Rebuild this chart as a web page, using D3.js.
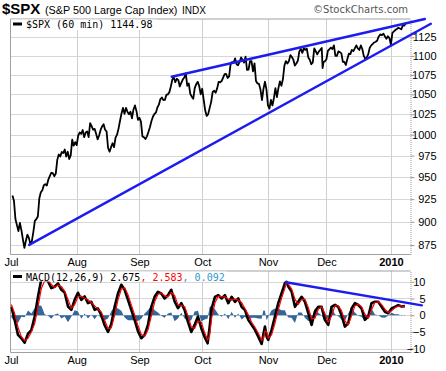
<!DOCTYPE html>
<html>
<head>
<meta charset="utf-8">
<script src="https://cdn.jsdelivr.net/npm/d3@7"></script>
<style>
  body { margin: 0; background: #fff; }
  svg { display: block; font-family: "Liberation Sans", Arial, sans-serif; }
</style>
</head>
<body>
<svg width="446" height="371"></svg>
<script>
// Month labels and the trading session where each month starts (Jul 1 2009 = 0)
const monthLabels = ["Jul", "Aug", "Sep", "Oct", "Nov", "Dec", "2010"];
const monthFirstSession = [0, 22, 43, 64, 86, 106, 128];
// shortened sessions (Nov 27, Dec 24) only have 4 of 7 hourly bars
const halfDays = [104, 123];

const priceTicks = [875, 900, 925, 950, 975, 1000, 1025, 1050, 1075, 1100, 1125];
const macdTicks = [-10, -5, 0, 5, 10];

// $SPX per session: a midday reading and the close
const middayPrice = [
  929, 903, 890, 891, 872, 886, 876, 889, 903, 926, 935, 942, 947, 955, 951, 970, 974, 978, 974, 971, 994, 991,
  999, 1001, 997, 1004, 1014, 1006, 1001, 999, 1010, 1006, 984, 985, 985, 1000, 1017, 1033, 1033, 1025, 1020, 1036, 1018,
  1016, 997, 998, 1009, 1022, 1027, 1037, 1046, 1043, 1050, 1060, 1072, 1070, 1060, 1069, 1077, 1064, 1047, 1058, 1066, 1050,
  1043, 1023, 1033, 1053, 1052, 1066, 1067, 1076, 1071, 1089, 1091, 1089, 1092, 1095, 1099, 1082, 1093, 1090, 1064, 1056, 1057, 1056,
  1032, 1036, 1058, 1058, 1061, 1087, 1090, 1101, 1095, 1090, 1106, 1104, 1108, 1098, 1089, 1110, 1102, 1108, 1084, 1093,
  1107, 1111, 1114, 1100, 1105, 1092, 1088, 1103, 1108, 1110, 1110, 1114, 1100, 1098, 1111, 1116, 1119, 1124, 1129, 1130, 1123, 1124,
  1131, 1135, 1138, 1136, 1141
];
const closePrice = [
  923.3, 896.4, 898.7, 881.0, 879.6, 882.7, 879.1, 901.1, 905.8, 932.7, 940.7, 940.4, 951.1, 954.6, 954.1, 976.3, 979.3, 982.2, 979.6, 975.2, 986.8, 987.5,
  1002.6, 1005.7, 1002.7, 997.1, 1010.5, 1007.1, 994.4, 1005.8, 1012.7, 1004.1, 979.7, 989.7, 996.5, 1007.4, 1026.1, 1025.6, 1028.0, 1028.1, 1031.0, 1028.9, 1020.6,
  998.0, 994.8, 1003.2, 1016.4, 1025.4, 1033.4, 1044.1, 1042.7, 1049.3, 1052.6, 1068.8, 1065.5, 1068.3, 1064.7, 1071.7, 1060.9, 1050.8, 1044.4, 1063.0, 1060.6, 1057.1,
  1029.9, 1025.2, 1040.5, 1054.7, 1057.6, 1065.5, 1071.5, 1076.2, 1073.2, 1092.0, 1096.6, 1087.7, 1097.9, 1091.1, 1081.4, 1092.9, 1079.6, 1067.0, 1063.4, 1042.6, 1066.1, 1036.2,
  1042.9, 1045.4, 1046.5, 1066.6, 1069.3, 1093.1, 1093.0, 1098.5, 1087.2, 1093.5, 1109.3, 1110.3, 1109.8, 1094.9, 1091.4, 1106.2, 1105.7, 1110.6, 1091.5, 1095.6,
  1108.9, 1109.2, 1099.9, 1106.0, 1103.3, 1091.9, 1096.0, 1102.4, 1106.4, 1114.1, 1107.9, 1109.2, 1096.1, 1102.5, 1114.1, 1118.0, 1120.6, 1126.5, 1127.8, 1126.2, 1126.4, 1115.1,
  1133.0, 1136.5, 1137.1, 1141.7, 1145.0
];

// MACD(12,26,9) readings, position in sessions
const macdDays = [
  0.13, 1.25, 2.36, 3.48, 4.59, 5.71, 6.82, 7.94, 9.05, 10.17,
  11.28, 12.4, 13.51, 14.63, 15.74, 16.86, 17.97, 19.09, 20.2, 21.32,
  22.43, 23.55, 24.66, 25.78, 26.89, 28.01, 29.12, 30.24, 31.35, 32.47,
  33.58, 34.7, 35.81, 36.93, 38.04, 39.16, 40.27, 41.39, 42.5, 43.62,
  44.73, 45.85, 46.96, 48.08, 49.19, 50.31, 51.42, 52.54, 53.65, 54.77,
  55.88, 57.0, 58.11, 59.23, 60.34, 61.46, 62.57, 63.69, 64.8, 65.8,
  66.5, 67.15, 68.27, 69.38, 70.5, 71.61, 72.73, 73.84, 74.96, 76.07,
  77.19, 78.3, 79.42, 80.53, 81.65, 82.76, 83.88, 84.44, 84.99, 85.55,
  86.11, 87.22, 88.34, 89.45, 90.57, 91.68, 92.24, 92.8, 93.91, 95.03,
  96.14, 97.26, 98.37, 99.49, 100.6, 101.72, 102.83, 103.95, 105.06, 106.18,
  107.29, 108.41, 109.52, 110.64, 111.75, 112.87, 113.98, 115.1, 116.21, 117.33,
  118.44, 119.56, 120.67, 121.79, 122.9, 124.02, 125.13, 126.25, 127.36, 128.48,
  129.59, 130.71, 131.82
];
const macdLine = [
  2.5, -1.4, -5.9, -6.9, -8.2, -5.5, -4.5, -0.4, 5.5, 10.8,
  10.6, 10.2, 8.1, 8.5, 9.5, 7.6, 6.8, 2.6, 1.6, 4.6,
  6.7, 4.6, 5.6, 3.6, 4.0, 1.6, 2.0, 0, -3, -5,
  -2.6, 2.5, 6.5, 9.1, 7.6, 4.6, 1.6, -1.4, -4.8, -6.9,
  -5.9, -2.9, 2.5, 5.5, 7, 6.5, 5, 6, 7.6, 4.1,
  2.1, 3.6, 1.6, -2, -5, -2.9, -0.4, -3.9, -6.5, -8.4,
  -3.5, 2, 5.5, 6, 5, 6, 3.6, 5.5, 4, 5,
  2.5, 1.5, -1.4, -2.9, -4.4, -6.4, -8.6, -5.9, -3.4, -6.4,
  -7.4, -4.4, -0.4, 3.6, 6.6, 9.6, 10, 8.6, 7.1, 2.5,
  4, 5.5, 4, 0.6, -2.9, 1.1, 2.5, 2.5, -1.4, -2.9,
  2.5, 3.1, 2.5, 0, -3.4, -2.4, 2, 3.6, 3.1, 2,
  -1.4, -0.4, 3.6, 4, 4, 2.5, 1, 0.6, 2, 2.5,
  3, 2.6, 2.7
];
const signalLine = [
  3.2, 0.5, -3.6, -6.4, -7.6, -6.9, -5.0, -2.5, 2.5, 8.0,
  10.3, 10.4, 9.2, 8.3, 9.0, 8.6, 7.2, 4.7, 2.1, 3.1,
  5.6, 5.7, 5.1, 4.6, 3.8, 2.8, 1.8, 1.0, -1.5, -4.0,
  -3.8, 0.0, 4.5, 7.8, 8.3, 6.1, 3.1, 0.1, -3.1, -5.8,
  -6.4, -4.4, -0.3, 4.0, 6.2, 6.7, 5.8, 5.5, 6.8, 5.9,
  3.1, 2.9, 2.6, -0.2, -3.5, -4.0, -1.7, -2.1, -5.2, -7.4,
  -6.0, -0.8, 3.7, 5.7, 5.5, 5.5, 4.8, 4.5, 4.8, 4.5,
  3.8, 2.0, 0.1, -2.1, -3.6, -5.4, -7.5, -7.3, -4.7, -4.9,
  -6.9, -5.9, -2.4, 1.6, 5.1, 8.1, 9.8, 9.3, 7.9, 4.8,
  3.2, 4.7, 4.8, 2.3, -1.1, -0.9, 1.8, 2.5, 0.5, -2.1,
  -0.2, 2.8, 2.8, 1.3, -1.7, -2.9, -0.2, 2.8, 3.3, 2.5,
  0.3, -0.9, 1.6, 3.8, 4.0, 3.2, 1.8, 0.8, 1.3, 2.2,
  2.7, 2.8, 2.6
];
const macdHist = [
  -0.7, -1.9, -2.3, -0.5, -0.6, 1.4, 0.5, 2.1, 3.0, 2.8,
  0.3, -0.2, -1.1, 0.2, 0.5, -1.0, -0.4, -2.1, -0.5, 1.5,
  1.1, -1.1, 0.5, -1.0, 0.2, -1.2, 0.2, -1.0, -1.5, -1.0,
  1.2, 2.5, 2.0, 1.3, -0.7, -1.5, -1.5, -1.5, -1.7, -1.1,
  0.5, 1.5, 2.8, 1.5, 0.8, -0.2, -0.8, 0.5, 0.8, -1.8,
  -1.0, 0.7, -1.0, -1.8, -1.5, 1.1, 1.3, -1.8, -1.3, -1.0,
  2.5, 2.8, 1.8, 0.3, -0.5, 0.5, -1.2, 1.0, -0.8, 0.5,
  -1.3, -0.5, -1.5, -0.8, -0.8, -1.0, -1.1, 1.4, 1.3, -1.5,
  -0.5, 1.5, 2.0, 2.0, 1.5, 1.5, 0.2, -0.7, -0.8, -2.3,
  0.8, 0.8, -0.8, -1.7, -1.8, 2.0, 0.7, 0, -1.9, -0.8,
  2.7, 0.3, -0.3, -1.3, -1.7, 0.5, 2.2, 0.8, -0.2, -0.5,
  -1.7, 0.5, 2.0, 0.2, 0, -0.7, -0.8, -0.2, 0.7, 0.3,
  0.3, -0.2, 0.1
];

// hand-drawn trendlines: [session, value]
const upperTrend = [[53.8, 1072.6], [138.5, 1150.2]];
const lowerTrend = [[6.1, 875.2], [140.5, 1143.6]];
const macdTrend = [[92.0, 9.85], [137.5, 2.93]];

const svg = d3.select("svg");
const L = 10.5, R = 410.5;
const top1 = 19, bot1 = 254.5;   // price panel
const top2 = 271, bot2 = 352.5;  // MACD panel

// session start positions
const sessionLen = i => halfDays.includes(i) ? 4 / 7 : 1;
const sessionStart = [];
let pos = 0;
closePrice.forEach((c, i) => { sessionStart.push(pos); pos += sessionLen(i); });

const pricePoints = [];
closePrice.forEach((c, i) => {
  pricePoints.push([sessionStart[i] + sessionLen(i) / 2, middayPrice[i]]);
  pricePoints.push([sessionStart[i] + sessionLen(i), c]);
});
const macdPoints = macdDays.map((d, i) => ({ d: d, m: macdLine[i], s: signalLine[i], h: macdHist[i] }));
const monthPos = monthFirstSession.map(i => sessionStart[i]);

const x = d3.scaleLinear().domain([-0.15, 133.7]).range([L, R]);
const yPrice = d3.scaleLog().domain([865.1, 1150.2]).range([bot1, top1]);
const yMacd = d3.scaleLinear().domain([-11.16, 13.22]).range([bot2, top2]);
const crisp = v => Math.round(v) + 0.5;

// title row
svg.append("text").attr("x", 2).attr("y", 14).attr("font-size", 15).attr("font-weight", "bold").text("$SPX");
svg.append("text").attr("x", 45).attr("y", 14).attr("font-size", 10.8).text("(S&P 500 Large Cap Index)");
svg.append("text").attr("x", 182).attr("y", 14).attr("font-size", 10).text("INDX");
svg.append("text").attr("x", 408).attr("y", 13).attr("text-anchor", "end")
  .attr("font-family", "DejaVu Sans").attr("font-size", 10).attr("fill", "#555").text("\u00A9StockCharts.com");

// panel frame, grid and right axis
function drawPanel(top, bottom, yScale, ticks, labelX, clipId) {
  const g = svg.append("g");
  svg.append("clipPath").attr("id", clipId).append("rect")
    .attr("x", L).attr("y", top).attr("width", R - L).attr("height", bottom - top);

  g.selectAll(".hgrid").data(ticks).join("line")
    .attr("x1", L).attr("x2", R)
    .attr("y1", d => crisp(yScale(d))).attr("y2", d => crisp(yScale(d)))
    .attr("stroke", "#d6d6d6");
  g.selectAll(".vgrid").data(monthPos.slice(1)).join("line")
    .attr("x1", d => crisp(x(d))).attr("x2", d => crisp(x(d)))
    .attr("y1", top).attr("y2", bottom)
    .attr("stroke", "#cfcfcf");

  g.append("path")
    .attr("d", `M${R},${top}H${L}V${bottom}H${R}`)
    .attr("fill", "none").attr("stroke", "#a0a0a0");

  const axis = svg.append("g").attr("transform", `translate(${R},0)`)
    .call(d3.axisRight(yScale).tickValues(ticks).tickFormat(d3.format("d")).tickSize(4).tickSizeOuter(0));
  axis.select(".domain").attr("stroke", "#999").attr("stroke-dasharray", "1,1");
  axis.selectAll(".tick line").attr("stroke", "#999");
  axis.attr("font-family", null).attr("font-size", 11).attr("text-anchor", "end");
  axis.selectAll(".tick text").attr("x", labelX).attr("fill", "#000");
  return g;
}

function drawMonths(y) {
  const ax = svg.append("g").attr("transform", `translate(0,${y})`)
    .call(d3.axisBottom(x).tickValues(monthPos).tickSize(0).tickPadding(4)
      .tickFormat((d, i) => monthLabels[i]));
  ax.select(".domain").remove();
  ax.attr("font-family", null).attr("font-size", 11);
  ax.selectAll(".tick text").attr("fill", "#000")
    .attr("font-weight", (d, i) => monthLabels[i] === "2010" ? "bold" : null);
}

// ---- price panel ----
drawPanel(top1, bot1, yPrice, priceTicks, 26, "clip-price");

svg.append("path")
  .datum(pricePoints)
  .attr("clip-path", "url(#clip-price)")
  .attr("d", d3.line().x(d => x(d[0])).y(d => yPrice(d[1])))
  .attr("fill", "none").attr("stroke", "#000").attr("stroke-width", 1.8)
  .attr("stroke-linejoin", "round");

[upperTrend, lowerTrend].forEach(t => {
  svg.append("line")
    .attr("x1", x(t[0][0])).attr("y1", yPrice(t[0][1]))
    .attr("x2", x(t[1][0])).attr("y2", yPrice(t[1][1]))
    .attr("stroke", "#1c1cf0").attr("stroke-width", 2.4).attr("stroke-linecap", "round");
});

svg.append("rect").attr("x", L + 0.5).attr("y", top1 + 0.5).attr("width", 146).attr("height", 10.5).attr("fill", "#fff");
svg.append("line").attr("x1", 13).attr("x2", 22).attr("y1", 24).attr("y2", 24).attr("stroke", "#000").attr("stroke-width", 3);
svg.append("text").attr("x", 26).attr("y", 27.5).attr("font-family", "DejaVu Sans Mono").attr("font-size", 10)
  .text("$SPX (60 min) 1144.98");

drawMonths(bot1);

// ---- MACD panel ----
drawPanel(top2, bot2, yMacd, macdTicks, 15, "clip-macd");

const mg = svg.append("g").attr("clip-path", "url(#clip-macd)");
mg.append("path")
  .datum(macdPoints)
  .attr("d", d3.area().x(d => x(d.d)).y0(yMacd(0)).y1(d => yMacd(d.h)))
  .attr("fill", "#336699");
mg.append("path")
  .datum(macdPoints)
  .attr("d", d3.line().x(d => x(d.d)).y(d => yMacd(d.m)))
  .attr("fill", "none").attr("stroke", "#000").attr("stroke-width", 2.6).attr("stroke-linejoin", "round");
mg.append("path")
  .datum(macdPoints)
  .attr("d", d3.line().x(d => x(d.d)).y(d => yMacd(d.s)))
  .attr("fill", "none").attr("stroke", "#ff0000").attr("stroke-width", 1.2).attr("stroke-linejoin", "round");

svg.append("line")
  .attr("x1", x(macdTrend[0][0])).attr("y1", yMacd(macdTrend[0][1]))
  .attr("x2", x(macdTrend[1][0])).attr("y2", yMacd(macdTrend[1][1]))
  .attr("stroke", "#1c1cf0").attr("stroke-width", 2.4).attr("stroke-linecap", "round");

svg.append("rect").attr("x", L + 0.5).attr("y", top2 + 0.5).attr("width", 216).attr("height", 10).attr("fill", "#fff");
svg.append("line").attr("x1", 13).attr("x2", 22).attr("y1", 276.5).attr("y2", 276.5).attr("stroke", "#000").attr("stroke-width", 3);
const lg = svg.append("text").attr("x", 26).attr("y", 280.5).attr("font-family", "DejaVu Sans Mono").attr("font-size", 10);
lg.append("tspan").text("MACD(12,26,9) 2.675");
lg.append("tspan").attr("fill", "#ff0000").text(", 2.583");
lg.append("tspan").attr("fill", "#3399cc").text(", 0.092");

drawMonths(bot2);
</script>
</body>
</html>
